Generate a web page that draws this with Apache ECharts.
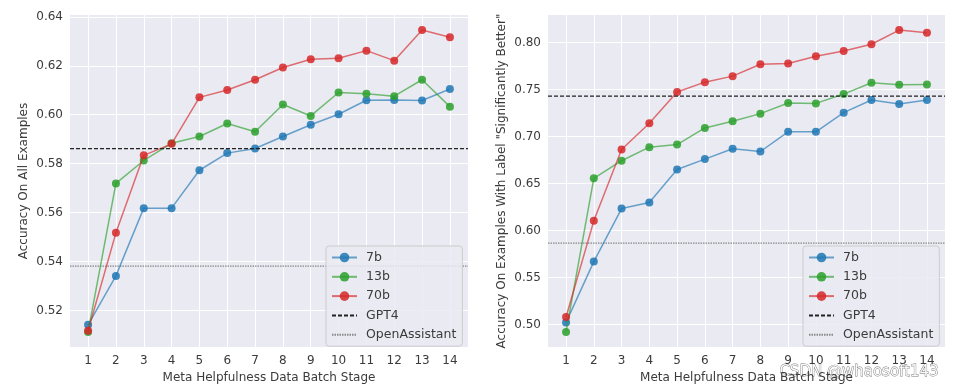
<!DOCTYPE html>
<html>
<head>
<meta charset="utf-8">
<script src="https://cdn.jsdelivr.net/npm/echarts@6/dist/echarts.min.js"></script>
<style>
html,body{margin:0;padding:0;background:#fff;}
#chart{width:953px;height:391px;}
</style>
</head>
<body>
<div id="chart"></div>
<script>
// ---- data ----
const stages = [1,2,3,4,5,6,7,8,9,10,11,12,13,14];
const modelNames = ['7b','13b','70b'];
const left7b  = [0.5141,0.5341,0.5618,0.5618,0.5773,0.5843,0.5862,0.5911,0.5959,0.6002,0.6059,0.6060,0.6058,0.6105];
const left13b = [0.5112,0.5719,0.5813,0.5883,0.5911,0.5964,0.5930,0.6042,0.5995,0.6091,0.6086,0.6076,0.6143,0.6033];
const left70b = [0.5117,0.5517,0.5834,0.5881,0.6071,0.6101,0.6143,0.6193,0.6227,0.6231,0.6262,0.6221,0.6346,0.6317];
const right7b  = [0.5023,0.5670,0.6235,0.6299,0.6651,0.6761,0.6871,0.6842,0.7051,0.7051,0.7255,0.7390,0.7347,0.7390];
const right13b = [0.4922,0.6556,0.6744,0.6888,0.6916,0.7093,0.7163,0.7245,0.7358,0.7354,0.7453,0.7573,0.7552,0.7555];
const right70b = [0.5080,0.6104,0.6863,0.7142,0.7475,0.7580,0.7644,0.7771,0.7778,0.7856,0.7912,0.7983,0.8134,0.8106];
const gpt4Values = [0.5861, 0.7432];
const openAssistantValues = [0.5381, 0.5867];
const leftYTicks = [0.52,0.54,0.56,0.58,0.60,0.62,0.64];
const rightYTicks = [0.50,0.55,0.60,0.65,0.70,0.75,0.80];
const xTitle = 'Meta Helpfulness Data Batch Stage';
const yTitles = ['Accuracy On All Examples', 'Accuracy On Examples With Label "Significantly Better"'];

// ---- chart ----
const colors = ['#1f77b4','#2ca02c','#d62728'];
const textColor = '#3b3b3b';
const font = 'DejaVu Sans';
const panels = [
  {series:[left7b,left13b,left70b], ticks:leftYTicks},
  {series:[right7b,right13b,right70b], ticks:rightYTicks}
];
function margins(arr, frac){
  const lo = Math.min(...arr), hi = Math.max(...arr), r = hi - lo;
  return [lo - r*frac, hi + r*frac];
}
const xr = margins(stages, 0.05);
const grids = [
  {left:70, right:485, top:15, bottom:44, backgroundColor:'#EAEAF2', show:true, borderWidth:0},
  {left:548, right:8, top:15, bottom:44, backgroundColor:'#EAEAF2', show:true, borderWidth:0}
];
const xAxes = [], yAxes = [], series = [];
panels.forEach((p, c) => {
  const yr = margins([].concat(...p.series), 0.05);
  xAxes.push({
    type:'value', gridIndex:c, min:xr[0], max:xr[1],
    name:xTitle, nameLocation:'middle', nameGap:24,
    nameTextStyle:{color:textColor, fontSize:12, fontFamily:font},
    axisLine:{show:false}, axisTick:{show:false, customValues:stages},
    axisLabel:{customValues:stages, color:textColor, fontSize:12, fontFamily:font, margin:8},
    splitLine:{show:true, lineStyle:{color:'#ffffff', width:1}}
  });
  yAxes.push({
    type:'value', gridIndex:c, min:yr[0], max:yr[1],
    name:yTitles[c], nameLocation:'middle', nameGap:40,
    nameTextStyle:{color:textColor, fontSize:12, fontFamily:font},
    axisLine:{show:false}, axisTick:{show:false, customValues:p.ticks},
    axisLabel:{customValues:p.ticks, color:textColor, fontSize:12, fontFamily:font, margin:7,
      formatter:v=>v.toFixed(2)},
    splitLine:{show:true, lineStyle:{color:'#ffffff', width:1}}
  });
  p.series.forEach((vals, k) => {
    series.push({
      type:'line', name:modelNames[k], xAxisIndex:c, yAxisIndex:c,
      data:stages.map((s,i)=>[s, vals[i]]),
      symbol:'circle', symbolSize:8, color:colors[k],
      lineStyle:{width:1.5, opacity:0.65}, itemStyle:{opacity:0.85},
      emphasis:{disabled:true}, z:3+k
    });
  });
  series.push({
    type:'line', name:'GPT4', xAxisIndex:c, yAxisIndex:c,
    data:[[xr[0], gpt4Values[c]],[xr[1], gpt4Values[c]]],
    symbol:'none', itemStyle:{color:'rgba(0,0,0,0)', opacity:0},
    lineStyle:{type:[4,2], width:1.3, color:'#222'}, z:6, emphasis:{disabled:true}
  });
  series.push({
    type:'line', name:'OpenAssistant', xAxisIndex:c, yAxisIndex:c,
    data:[[xr[0], openAssistantValues[c]],[xr[1], openAssistantValues[c]]],
    symbol:'none', itemStyle:{color:'rgba(0,0,0,0)', opacity:0},
    lineStyle:{type:[1.5,1], width:1.3, color:'#888'}, z:2, emphasis:{disabled:true}
  });
});
const legendBase = {
  orient:'vertical', top:246, itemWidth:25, itemHeight:12, itemGap:6.3,
  backgroundColor:'rgba(234,234,242,0.85)', borderColor:'#cccccc', borderWidth:1, borderRadius:3,
  padding:[5,6,5,5],
  textStyle:{color:textColor, fontSize:12.5, fontFamily:font, padding:[0,0,0,4]},
  data:['7b','13b','70b',
    {name:'GPT4', itemStyle:{opacity:0}},
    {name:'OpenAssistant', itemStyle:{opacity:0}}], z:10
};
const chart = echarts.init(document.getElementById('chart'), null, {renderer:'canvas'});
chart.setOption({
  animation:false,
  backgroundColor:'#ffffff',
  textStyle:{fontFamily:font},
  grid:grids, xAxis:xAxes, yAxis:yAxes, series:series,
  legend:[Object.assign({left:326}, legendBase), Object.assign({left:803}, legendBase)],
  graphic:[{type:'text', right:14, top:364, style:{text:'CSDN @whaosoft143', fill:'rgba(255,255,255,0.9)',
    stroke:'#777', lineWidth:0.8, fontSize:15, fontFamily:font}}]
});
</script>
</body>
</html>
